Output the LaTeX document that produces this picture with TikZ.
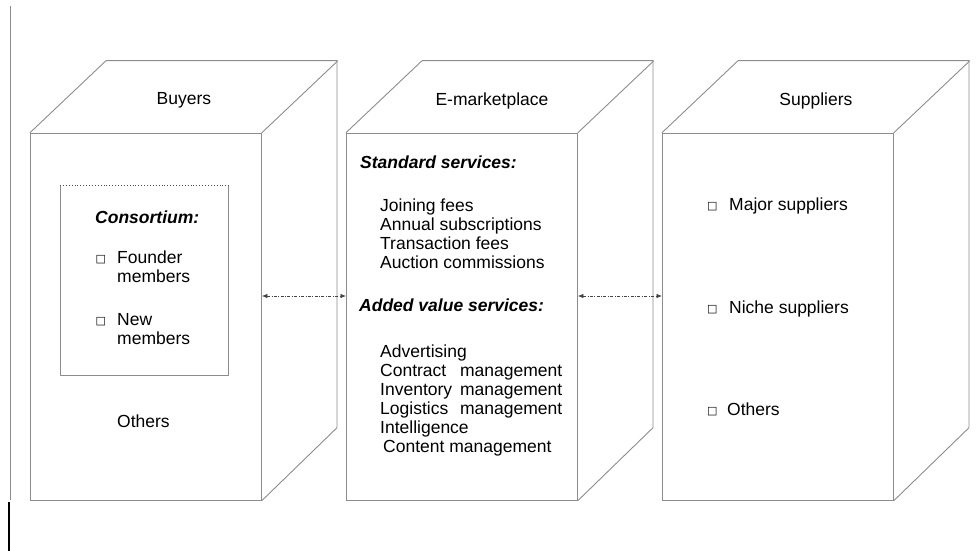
\documentclass[tikz,border=0pt]{standalone}
\usepackage{fontspec}
\setmainfont{Liberation Sans}
\newfontfamily\symfont{DejaVu Sans}
\usetikzlibrary{arrows.meta,positioning}
\definecolor{edgegray}{HTML}{8C8C8C}
\definecolor{flowgray}{HTML}{444444}
\newcommand{\cb}{\raisebox{1pt}{\symfont\fontsize{11}{11}\selectfont □}}

\begin{document}
\begin{tikzpicture}[x=1pt, y=-1pt,
  every node/.style = {inner sep=0pt, align=left, font=\fontsize{17.5}{19}\selectfont},
  boxfront/.style = {draw=edgegray, line width=0.9pt, minimum width=231pt,
    minimum height=367pt, anchor=north west},
  boxedge/.style = {draw=edgegray, line width=0.9pt, line join=round},
  grouptitle/.style = {font=\fontsize{17.5}{19}\selectfont\bfseries\itshape, anchor=base west},
  entry/.style = {anchor=base west},
  entrylist/.style = {anchor=north west},
  flow/.style = {<->, >={Latex[length=5.5pt,width=4.5pt]}, flowgray, line width=0.7pt,
    dash pattern=on 3pt off 1.5pt on 0.8pt off 1.5pt}]
\useasboundingbox (0,0) rectangle (978,551);

% page margin rule
\draw[edgegray, line width=0.8pt] (10,6) -- (10,500);
\draw[black, line width=1.6pt] (9,502) -- (9,551);

% the three blocks
\node[boxfront] (buyers) at (30,132.7) {};
\node[boxfront] (market) at (346,132.7) {};
\node[boxfront] (suppliers) at (662,132.7) {};

\draw[boxedge] (buyers.north west) -- ++(76,-72) -- ++(231,0) -- ++(0,367) -- (buyers.south east);
\draw[boxedge] (buyers.north east) -- ++(76,-72);
\draw[boxedge] (market.north west) -- ++(76,-72) -- ++(231,0) -- ++(0,367) -- (market.south east);
\draw[boxedge] (market.north east) -- ++(76,-72);
\draw[boxedge] (suppliers.north west) -- ++(76,-72) -- ++(231,0) -- ++(0,367) -- (suppliers.south east);
\draw[boxedge] (suppliers.north east) -- ++(76,-72);

\node (buyerslabel) at ([shift={(38,-32)}]buyers.north) {Buyers};
\node (marketlabel) at ([shift={(30,-32)}]market.north) {E-marketplace};
\node (supplierslabel) at ([shift={(38,-32)}]suppliers.north) {Suppliers};

% buyers
\node[minimum width=168pt, minimum height=190pt, anchor=north west] (consortium) at (60,185) {};
\draw[boxedge] (consortium.north east) -- (consortium.south east) -- (consortium.south west) -- (consortium.north west);
\draw[boxedge, draw=black!70, dotted] (consortium.north west) -- (consortium.north east);
\node[grouptitle] (constitle) at (95,223) {Consortium:};
\node[entrylist] (founder) at (95.5,251) {\makebox[21.5pt][l]{\cb}Founder\\\hspace*{21.5pt}members};
\node[entrylist] (newmem) at (95.5,313) {\makebox[21.5pt][l]{\cb}New\\\hspace*{21.5pt}members};
\node[entry] (buyersother) at (117,427) {Others};

% e-marketplace
\node[grouptitle] (standard) at (360,168) {Standard services:};
\node[entrylist] (fees) at (380,199) {Joining fees\\Annual subscriptions\\Transaction fees\\Auction commissions};
\node[grouptitle] (added) at (359,311) {Added value services:};
\node[entrylist] (valueadd) at (380,345) {Advertising\\
  \makebox[182pt][s]{Contract management}\\
  \makebox[182pt][s]{Inventory management}\\
  \makebox[182pt][s]{Logistics management}\\
  Intelligence\\
  \hspace*{3pt}Content management};

% suppliers
\node[entry] (major) at (707,210) {\makebox[22pt][l]{\cb}Major suppliers};
\node[entry] (niche) at (707,313) {\makebox[22pt][l]{\cb}Niche suppliers};
\node[entry] (supplother) at (707,415) {\makebox[20pt][l]{\cb}Others};

% links
\coordinate (flowlevel) at (0,296);
\draw[flow] (buyers.east |- flowlevel) -- (market.west |- flowlevel);
\draw[flow] (market.east |- flowlevel) -- (suppliers.west |- flowlevel);
\end{tikzpicture}
\end{document}
